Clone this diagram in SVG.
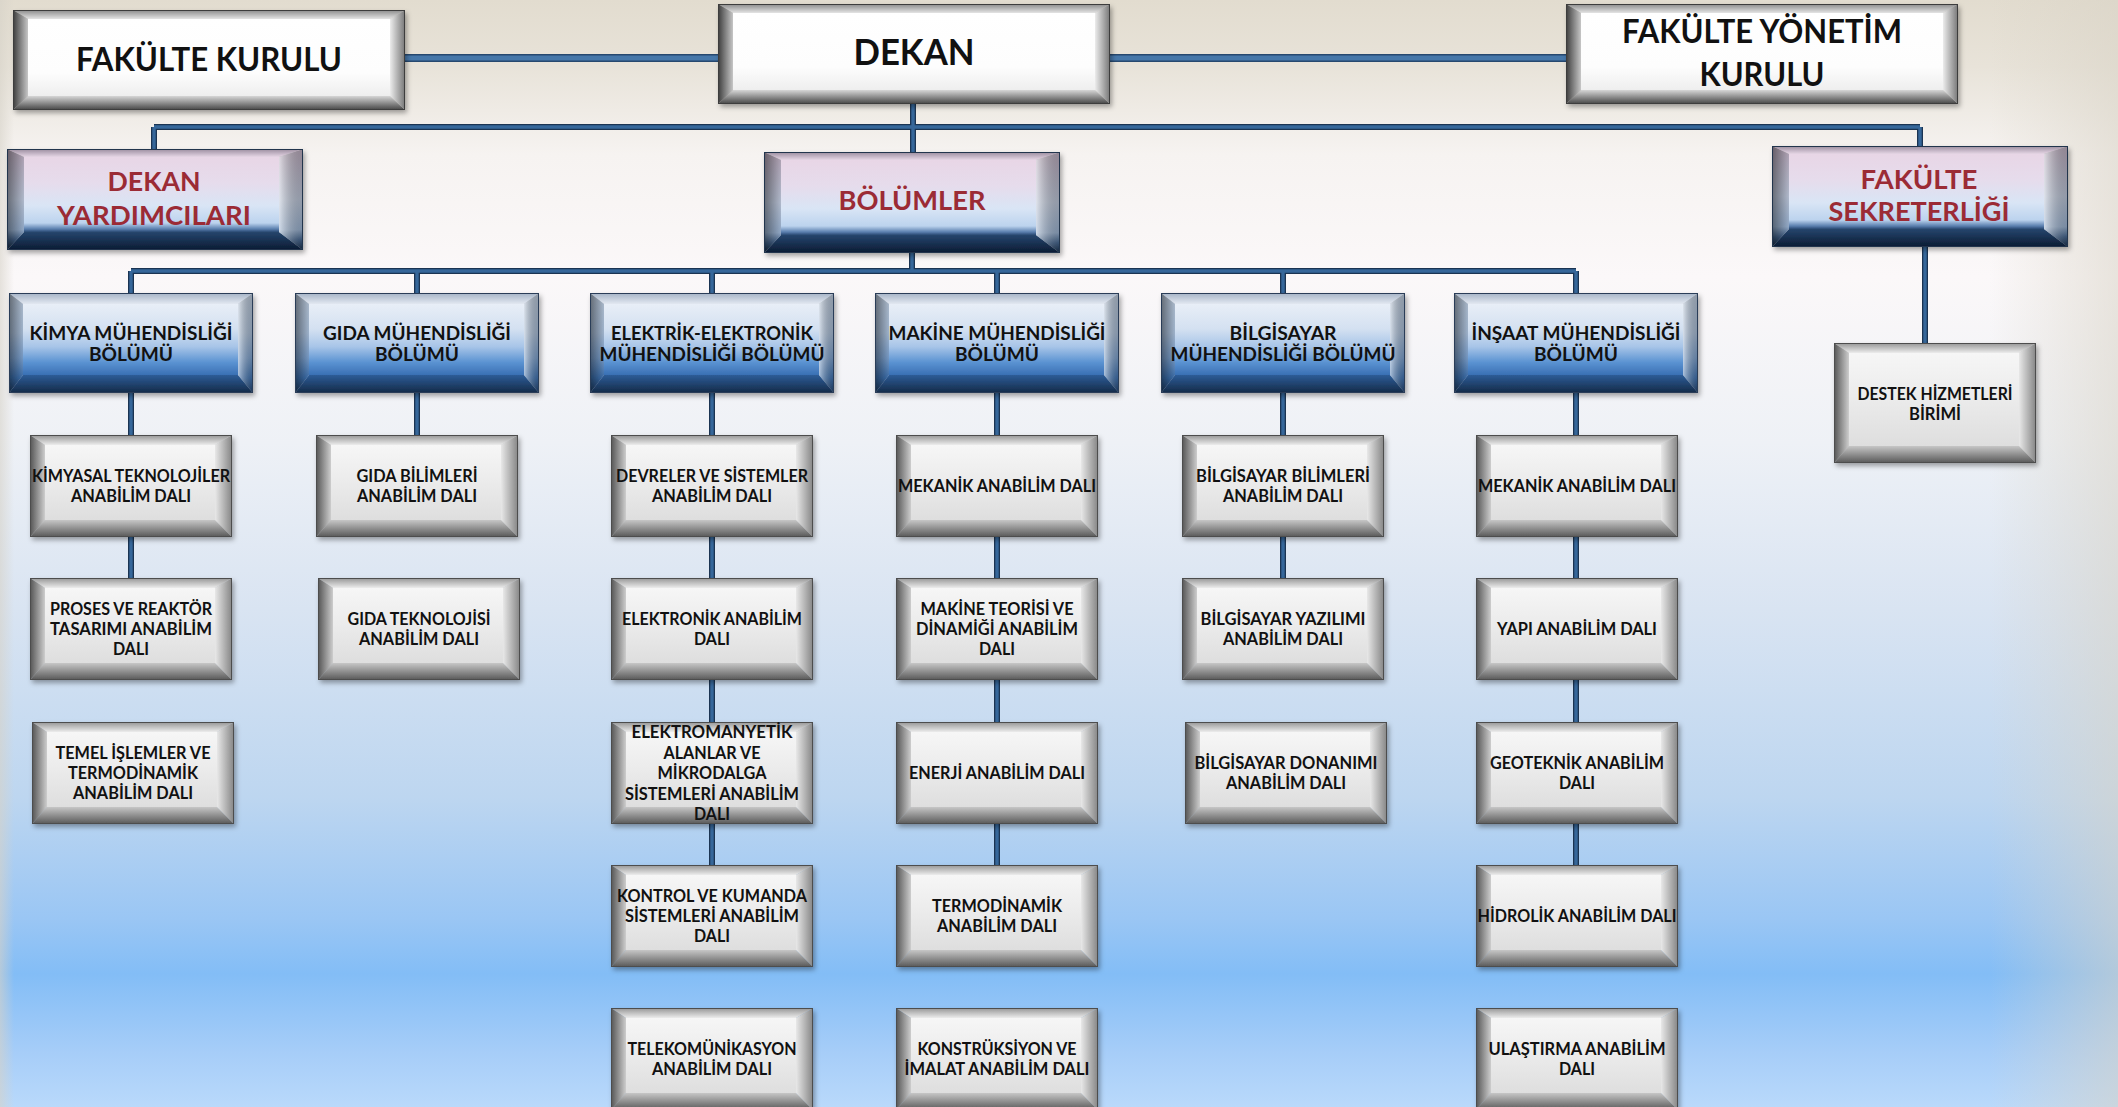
<svg xmlns="http://www.w3.org/2000/svg" xmlns:xlink="http://www.w3.org/1999/xlink" width="2118" height="1107" viewBox="0 0 2118 1107">
<style>
text{font-family:Lato,"Liberation Sans","DejaVu Sans",sans-serif;font-weight:700;text-anchor:middle;fill:#111}
.t-top{font-size:31.5px}
.t-dekan{font-size:36.5px}
.t-red{font-size:27px;fill:#9b2b35}
.t-dept{font-size:19px}
.t-sub{font-size:16.5px}
.ln-o{fill:none;stroke:#1b3452;stroke-width:6}
.ln-i{fill:none;stroke:#36679a;stroke-width:3.4}
.lk-o{fill:none;stroke:#27496f;stroke-width:8}
.lk-i{fill:none;stroke:#4677a9;stroke-width:5}
</style>
<defs>
<linearGradient id="bg" x1="0" y1="0" x2="0" y2="1">
<stop offset="0" stop-color="#e2dccf"/><stop offset="0.06" stop-color="#e8e3d9"/><stop offset="0.14" stop-color="#f6f3f1"/><stop offset="0.25" stop-color="#fbf8f9"/><stop offset="0.4" stop-color="#eef1f6"/><stop offset="0.55" stop-color="#d9e4f2"/><stop offset="0.72" stop-color="#bdd6f0"/><stop offset="0.83" stop-color="#9ac6f4"/><stop offset="0.88" stop-color="#83bdf6"/><stop offset="0.95" stop-color="#a6cdf8"/><stop offset="1" stop-color="#b9d9fb"/>
</linearGradient>
<linearGradient id="bgR" x1="0" y1="0" x2="1" y2="0">
<stop offset="0" stop-color="#d9d3c6" stop-opacity="0"/><stop offset="1" stop-color="#d9d3c6" stop-opacity="0.55"/>
</linearGradient>
<linearGradient id="bgL" x1="0" y1="0" x2="1" y2="0">
<stop offset="0" stop-color="#d6d2c8" stop-opacity="0.6"/><stop offset="1" stop-color="#d6d2c8" stop-opacity="0"/>
</linearGradient>
<filter id="sh" x="-6%" y="-8%" width="115%" height="125%">
<feDropShadow dx="2" dy="3" stdDeviation="2.5" flood-color="#000" flood-opacity="0.35"/>
</filter>
<!-- gray sub boxes -->
<linearGradient id="gsFace" x1="0" y1="0" x2="0" y2="1"><stop offset="0" stop-color="#f6f6f6"/><stop offset="0.5" stop-color="#ebebeb"/><stop offset="1" stop-color="#dedede"/></linearGradient>
<linearGradient id="gsTop" x1="0" y1="0" x2="0" y2="1"><stop offset="0" stop-color="#959595"/><stop offset="1" stop-color="#ececec"/></linearGradient>
<linearGradient id="gsBot" x1="0" y1="0" x2="0" y2="1"><stop offset="0" stop-color="#c6c6c6"/><stop offset="1" stop-color="#585858"/></linearGradient>
<linearGradient id="gsLeft" x1="0" y1="0" x2="1" y2="0"><stop offset="0" stop-color="#545454"/><stop offset="1" stop-color="#cdcdcd"/></linearGradient>
<linearGradient id="gsRight" x1="0" y1="0" x2="1" y2="0"><stop offset="0" stop-color="#e8e8e8"/><stop offset="1" stop-color="#858585"/></linearGradient>
<!-- white top boxes -->
<linearGradient id="gwFace" x1="0" y1="0" x2="0" y2="1"><stop offset="0" stop-color="#ffffff"/><stop offset="0.7" stop-color="#fdfdfd"/><stop offset="1" stop-color="#eeeeee"/></linearGradient>
<linearGradient id="gwTop" x1="0" y1="0" x2="0" y2="1"><stop offset="0" stop-color="#8a8a8a"/><stop offset="1" stop-color="#e4e4e4"/></linearGradient>
<linearGradient id="gwBot" x1="0" y1="0" x2="0" y2="1"><stop offset="0" stop-color="#d6d6d6"/><stop offset="1" stop-color="#444444"/></linearGradient>
<linearGradient id="gwLeft" x1="0" y1="0" x2="1" y2="0"><stop offset="0" stop-color="#3c3c3c"/><stop offset="1" stop-color="#c6c6c6"/></linearGradient>
<linearGradient id="gwRight" x1="0" y1="0" x2="1" y2="0"><stop offset="0" stop-color="#ececec"/><stop offset="1" stop-color="#777777"/></linearGradient>
<!-- blue department boxes -->
<linearGradient id="gbFace" x1="0" y1="0" x2="0" y2="1"><stop offset="0" stop-color="#e8eef7"/><stop offset="0.35" stop-color="#d4e1f1"/><stop offset="0.6" stop-color="#a8c5e8"/><stop offset="0.82" stop-color="#5b93d2"/><stop offset="1" stop-color="#3a70b4"/></linearGradient>
<linearGradient id="gbSide" x1="0" y1="0" x2="0" y2="1"><stop offset="0" stop-color="#b6c4d6"/><stop offset="0.4" stop-color="#a6bbd5"/><stop offset="0.65" stop-color="#7a9fcc"/><stop offset="0.85" stop-color="#3d71b0"/><stop offset="1" stop-color="#1f3f6a"/></linearGradient>
<linearGradient id="gbTop" x1="0" y1="0" x2="0" y2="1"><stop offset="0" stop-color="#a5b3c6"/><stop offset="1" stop-color="#e2e8f1"/></linearGradient>
<linearGradient id="gbBot" x1="0" y1="0" x2="0" y2="1"><stop offset="0" stop-color="#2d5c97"/><stop offset="1" stop-color="#142a47"/></linearGradient>
<!-- red-title boxes -->
<linearGradient id="grFace" x1="0" y1="0" x2="0" y2="1"><stop offset="0" stop-color="#e8d6e6"/><stop offset="0.35" stop-color="#e6dcec"/><stop offset="0.65" stop-color="#d9e5f5"/><stop offset="0.88" stop-color="#bcd3ee"/><stop offset="0.96" stop-color="#5a7fae"/><stop offset="1" stop-color="#2b4a73"/></linearGradient>
<linearGradient id="grSide" x1="0" y1="0" x2="0" y2="1"><stop offset="0" stop-color="#b8a8ba"/><stop offset="0.5" stop-color="#b9c3d6"/><stop offset="0.8" stop-color="#98b0cf"/><stop offset="0.9" stop-color="#45668f"/><stop offset="1" stop-color="#142a48"/></linearGradient>
<linearGradient id="grTop" x1="0" y1="0" x2="0" y2="1"><stop offset="0" stop-color="#9a8c9e"/><stop offset="1" stop-color="#e6d6e5"/></linearGradient>
<linearGradient id="grBot" x1="0" y1="0" x2="0" y2="1"><stop offset="0" stop-color="#26456d"/><stop offset="1" stop-color="#0b1b32"/></linearGradient>
<linearGradient id="shadeL" x1="0" y1="0" x2="1" y2="0"><stop offset="0" stop-color="#000" stop-opacity="0.45"/><stop offset="1" stop-color="#000" stop-opacity="0.05"/></linearGradient>
<linearGradient id="shadeR" x1="0" y1="0" x2="1" y2="0"><stop offset="0" stop-color="#fff" stop-opacity="0.55"/><stop offset="1" stop-color="#000" stop-opacity="0.2"/></linearGradient>

<g id="tplSub">
<polygon points="0,0 202,0 185,10 15,10" fill="url(#gsTop)"/>
<polygon points="0,102 202,102 185,85 15,85" fill="url(#gsBot)"/>
<polygon points="0,0 15,10 15,85 0,102" fill="url(#gsLeft)"/>
<polygon points="202,0 185,10 185,85 202,102" fill="url(#gsRight)"/>
<rect x="15" y="10" width="170" height="75" fill="url(#gsFace)"/>
<rect x="0.5" y="0.5" width="201" height="101" fill="none" stroke="#4d4d4d" stroke-width="1"/>
</g>
<g id="tplSubTall">
<polygon points="0,0 202,0 185,10 15,10" fill="url(#gsTop)"/>
<polygon points="0,120 202,120 185,103 15,103" fill="url(#gsBot)"/>
<polygon points="0,0 15,10 15,103 0,120" fill="url(#gsLeft)"/>
<polygon points="202,0 185,10 185,103 202,120" fill="url(#gsRight)"/>
<rect x="15" y="10" width="170" height="93" fill="url(#gsFace)"/>
<rect x="0.5" y="0.5" width="201" height="119" fill="none" stroke="#4d4d4d" stroke-width="1"/>
</g>
<g id="tplTop">
<polygon points="0,0 392,0 377,9 15,9" fill="url(#gwTop)"/>
<polygon points="0,100 392,100 377,86 15,86" fill="url(#gwBot)"/>
<polygon points="0,0 15,9 15,86 0,100" fill="url(#gwLeft)"/>
<polygon points="392,0 377,9 377,86 392,100" fill="url(#gwRight)"/>
<rect x="15" y="9" width="362" height="77" fill="url(#gwFace)"/>
<rect x="0.5" y="0.5" width="391" height="99" fill="none" stroke="#3d3d3d" stroke-width="1"/>
</g>
<g id="tplDept">
<polygon points="0,0 244,0 229,11 14,11" fill="url(#gbTop)"/>
<polygon points="0,100 244,100 229,82 14,82" fill="url(#gbBot)"/>
<polygon points="0,0 14,11 14,82 0,100" fill="url(#gbSide)"/>
<polygon points="0,0 14,11 14,82 0,100" fill="url(#shadeL)"/>
<polygon points="244,0 229,11 229,82 244,100" fill="url(#gbSide)"/>
<polygon points="244,0 229,11 229,82 244,100" fill="url(#shadeR)"/>
<rect x="14" y="11" width="215" height="71" fill="url(#gbFace)"/>
<rect x="0.5" y="0.5" width="243" height="99" fill="none" stroke="#2a3d58" stroke-width="1"/>
</g>
<g id="tplRed">
<polygon points="0,0 296,0 272,8 17,8" fill="url(#grTop)"/>
<polygon points="0,101 296,101 272,83 17,83" fill="url(#grBot)"/>
<polygon points="0,0 17,8 17,83 0,101" fill="url(#grSide)"/>
<polygon points="0,0 17,8 17,83 0,101" fill="url(#shadeL)"/>
<polygon points="296,0 272,8 272,83 296,101" fill="url(#grSide)"/>
<polygon points="296,0 272,8 272,83 296,101" fill="url(#shadeR)"/>
<rect x="17" y="8" width="255" height="75" fill="url(#grFace)"/>
<rect x="0.5" y="0.5" width="295" height="100" fill="none" stroke="#24344e" stroke-width="1"/>
</g>

<path id="pLinks" d="M405,58 H718 M1110,58 H1566"/>
<path id="pTree" d="M913,104 V152 M154,127 H1920 M154,127 V149 M1920,127 V146 M912,252 V271 M131,271 H1576 M131,271 V293 M417,271 V293 M712,271 V293 M997,271 V293 M1283,271 V293 M1576,271 V293 M1925,247 V343 M131,393 V435 M131,537 V578 M417,393 V435 M712,393 V435 M712,537 V578 M712,680 V722 M712,824 V865 M997,393 V435 M997,537 V578 M997,680 V722 M997,824 V865 M1283,393 V435 M1283,537 V578 M1576,393 V435 M1576,537 V578 M1576,680 V722 M1576,824 V865"/>
</defs>

<rect x="0" y="0" width="2118" height="1107" fill="url(#bg)"/>
<rect x="1990" y="0" width="128" height="1107" fill="url(#bgR)"/>
<rect x="0" y="0" width="14" height="1107" fill="url(#bgL)"/>

<g id="connectors">
<use href="#pLinks" class="lk-o"/>
<use href="#pLinks" class="lk-i"/>
<use href="#pTree" class="ln-o"/>
<use href="#pTree" class="ln-i"/>
</g>

<g id="fakulte-kurulu" transform="translate(13,10)">
<use href="#tplTop" filter="url(#sh)"/>
<text class="t-top" x="196" y="61" textLength="266" lengthAdjust="spacingAndGlyphs">FAKÜLTE KURULU</text>
</g>
<g id="dekan" transform="translate(718,4)">
<use href="#tplTop" filter="url(#sh)"/>
<text class="t-dekan" x="196" y="61" textLength="121" lengthAdjust="spacingAndGlyphs">DEKAN</text>
</g>
<g id="fakulte-yonetim-kurulu" transform="translate(1566,4)">
<use href="#tplTop" filter="url(#sh)"/>
<text class="t-top" x="196" y="39" textLength="280" lengthAdjust="spacingAndGlyphs">FAKÜLTE YÖNETİM</text>
<text class="t-top" x="196" y="82" textLength="125" lengthAdjust="spacingAndGlyphs">KURULU</text>
</g>

<g id="dekan-yardimcilari" transform="translate(7,149)">
<use href="#tplRed" filter="url(#sh)"/>
<text class="t-red" x="147" y="42" textLength="93" lengthAdjust="spacingAndGlyphs">DEKAN</text>
<text class="t-red" x="147" y="76" textLength="194" lengthAdjust="spacingAndGlyphs">YARDIMCILARI</text>
</g>
<g id="bolumler" transform="translate(764,152)">
<use href="#tplRed" filter="url(#sh)"/>
<text class="t-red" x="148" y="58" textLength="147" lengthAdjust="spacingAndGlyphs">BÖLÜMLER</text>
</g>
<g id="fakulte-sekreterligi" transform="translate(1772,146)">
<use href="#tplRed" filter="url(#sh)"/>
<text class="t-red" x="147" y="43" textLength="117" lengthAdjust="spacingAndGlyphs">FAKÜLTE</text>
<text class="t-red" x="147" y="75" textLength="181" lengthAdjust="spacingAndGlyphs">SEKRETERLİĞİ</text>
</g>

<g id="destek-hizmetleri" transform="translate(1834,343)">
<use href="#tplSubTall" filter="url(#sh)"/>
<text class="t-sub" x="101" y="57" textLength="155" lengthAdjust="spacingAndGlyphs">DESTEK HİZMETLERİ</text>
<text class="t-sub" x="101" y="77" textLength="52" lengthAdjust="spacingAndGlyphs">BİRİMİ</text>
</g>

<g id="kimya" transform="translate(9,293)">
<use href="#tplDept" filter="url(#sh)"/>
<text class="t-dept" x="122" y="47" textLength="203" lengthAdjust="spacingAndGlyphs">KİMYA MÜHENDİSLİĞİ</text>
<text class="t-dept" x="122" y="68" textLength="84" lengthAdjust="spacingAndGlyphs">BÖLÜMÜ</text>
</g>
<g id="gida" transform="translate(295,293)">
<use href="#tplDept" filter="url(#sh)"/>
<text class="t-dept" x="122" y="47" textLength="188" lengthAdjust="spacingAndGlyphs">GIDA MÜHENDİSLİĞİ</text>
<text class="t-dept" x="122" y="68" textLength="84" lengthAdjust="spacingAndGlyphs">BÖLÜMÜ</text>
</g>
<g id="elektrik" transform="translate(590,293)">
<use href="#tplDept" filter="url(#sh)"/>
<text class="t-dept" x="122" y="47" textLength="202" lengthAdjust="spacingAndGlyphs">ELEKTRİK-ELEKTRONİK</text>
<text class="t-dept" x="122" y="68" textLength="225" lengthAdjust="spacingAndGlyphs">MÜHENDİSLİĞİ BÖLÜMÜ</text>
</g>
<g id="makine" transform="translate(875,293)">
<use href="#tplDept" filter="url(#sh)"/>
<text class="t-dept" x="122" y="47" textLength="217" lengthAdjust="spacingAndGlyphs">MAKİNE MÜHENDİSLİĞİ</text>
<text class="t-dept" x="122" y="68" textLength="84" lengthAdjust="spacingAndGlyphs">BÖLÜMÜ</text>
</g>
<g id="bilgisayar" transform="translate(1161,293)">
<use href="#tplDept" filter="url(#sh)"/>
<text class="t-dept" x="122" y="47" textLength="107" lengthAdjust="spacingAndGlyphs">BİLGİSAYAR</text>
<text class="t-dept" x="122" y="68" textLength="225" lengthAdjust="spacingAndGlyphs">MÜHENDİSLİĞİ BÖLÜMÜ</text>
</g>
<g id="insaat" transform="translate(1454,293)">
<use href="#tplDept" filter="url(#sh)"/>
<text class="t-dept" x="122" y="47" textLength="209" lengthAdjust="spacingAndGlyphs">İNŞAAT MÜHENDİSLİĞİ</text>
<text class="t-dept" x="122" y="68" textLength="84" lengthAdjust="spacingAndGlyphs">BÖLÜMÜ</text>
</g>

<g id="kimya-1" transform="translate(30,435)">
<use href="#tplSub" filter="url(#sh)"/>
<text class="t-sub" x="101" y="47" textLength="198" lengthAdjust="spacingAndGlyphs">KİMYASAL TEKNOLOJİLER</text>
<text class="t-sub" x="101" y="67" textLength="120" lengthAdjust="spacingAndGlyphs">ANABİLİM DALI</text>
</g>
<g id="kimya-2" transform="translate(30,578)">
<use href="#tplSub" filter="url(#sh)"/>
<text class="t-sub" x="101" y="37" textLength="162" lengthAdjust="spacingAndGlyphs">PROSES VE REAKTÖR</text>
<text class="t-sub" x="101" y="57" textLength="162" lengthAdjust="spacingAndGlyphs">TASARIMI ANABİLİM</text>
<text class="t-sub" x="101" y="77" textLength="36" lengthAdjust="spacingAndGlyphs">DALI</text>
</g>
<g id="kimya-3" transform="translate(32,722)">
<use href="#tplSub" filter="url(#sh)"/>
<text class="t-sub" x="101" y="37" textLength="155" lengthAdjust="spacingAndGlyphs">TEMEL İŞLEMLER VE</text>
<text class="t-sub" x="101" y="57" textLength="130" lengthAdjust="spacingAndGlyphs">TERMODİNAMİK</text>
<text class="t-sub" x="101" y="77" textLength="120" lengthAdjust="spacingAndGlyphs">ANABİLİM DALI</text>
</g>

<g id="gida-1" transform="translate(316,435)">
<use href="#tplSub" filter="url(#sh)"/>
<text class="t-sub" x="101" y="47" textLength="121" lengthAdjust="spacingAndGlyphs">GIDA BİLİMLERİ</text>
<text class="t-sub" x="101" y="67" textLength="120" lengthAdjust="spacingAndGlyphs">ANABİLİM DALI</text>
</g>
<g id="gida-2" transform="translate(318,578)">
<use href="#tplSub" filter="url(#sh)"/>
<text class="t-sub" x="101" y="47" textLength="143" lengthAdjust="spacingAndGlyphs">GIDA TEKNOLOJİSİ</text>
<text class="t-sub" x="101" y="67" textLength="120" lengthAdjust="spacingAndGlyphs">ANABİLİM DALI</text>
</g>

<g id="elektrik-1" transform="translate(611,435)">
<use href="#tplSub" filter="url(#sh)"/>
<text class="t-sub" x="101" y="47" textLength="192" lengthAdjust="spacingAndGlyphs">DEVRELER VE SİSTEMLER</text>
<text class="t-sub" x="101" y="67" textLength="120" lengthAdjust="spacingAndGlyphs">ANABİLİM DALI</text>
</g>
<g id="elektrik-2" transform="translate(611,578)">
<use href="#tplSub" filter="url(#sh)"/>
<text class="t-sub" x="101" y="47" textLength="180" lengthAdjust="spacingAndGlyphs">ELEKTRONİK ANABİLİM</text>
<text class="t-sub" x="101" y="67" textLength="36" lengthAdjust="spacingAndGlyphs">DALI</text>
</g>
<g id="elektrik-3" transform="translate(611,722)">
<use href="#tplSub" filter="url(#sh)"/>
<text class="t-sub" x="101" y="16" textLength="161" lengthAdjust="spacingAndGlyphs">ELEKTROMANYETİK</text>
<text class="t-sub" x="101" y="36.5" textLength="97" lengthAdjust="spacingAndGlyphs">ALANLAR VE</text>
<text class="t-sub" x="101" y="57" textLength="109" lengthAdjust="spacingAndGlyphs">MİKRODALGA</text>
<text class="t-sub" x="101" y="77.5" textLength="174" lengthAdjust="spacingAndGlyphs">SİSTEMLERİ ANABİLİM</text>
<text class="t-sub" x="101" y="98" textLength="36" lengthAdjust="spacingAndGlyphs">DALI</text>
</g>
<g id="elektrik-4" transform="translate(611,865)">
<use href="#tplSub" filter="url(#sh)"/>
<text class="t-sub" x="101" y="37" textLength="190" lengthAdjust="spacingAndGlyphs">KONTROL VE KUMANDA</text>
<text class="t-sub" x="101" y="57" textLength="174" lengthAdjust="spacingAndGlyphs">SİSTEMLERİ ANABİLİM</text>
<text class="t-sub" x="101" y="77" textLength="36" lengthAdjust="spacingAndGlyphs">DALI</text>
</g>
<g id="elektrik-5" transform="translate(611,1008)">
<use href="#tplSub" filter="url(#sh)"/>
<text class="t-sub" x="101" y="47" textLength="169" lengthAdjust="spacingAndGlyphs">TELEKOMÜNİKASYON</text>
<text class="t-sub" x="101" y="67" textLength="120" lengthAdjust="spacingAndGlyphs">ANABİLİM DALI</text>
</g>

<g id="makine-1" transform="translate(896,435)">
<use href="#tplSub" filter="url(#sh)"/>
<text class="t-sub" x="101" y="57" textLength="198" lengthAdjust="spacingAndGlyphs">MEKANİK ANABİLİM DALI</text>
</g>
<g id="makine-2" transform="translate(896,578)">
<use href="#tplSub" filter="url(#sh)"/>
<text class="t-sub" x="101" y="37" textLength="153" lengthAdjust="spacingAndGlyphs">MAKİNE TEORİSİ VE</text>
<text class="t-sub" x="101" y="57" textLength="162" lengthAdjust="spacingAndGlyphs">DİNAMİĞİ ANABİLİM</text>
<text class="t-sub" x="101" y="77" textLength="36" lengthAdjust="spacingAndGlyphs">DALI</text>
</g>
<g id="makine-3" transform="translate(896,722)">
<use href="#tplSub" filter="url(#sh)"/>
<text class="t-sub" x="101" y="57" textLength="176" lengthAdjust="spacingAndGlyphs">ENERJİ ANABİLİM DALI</text>
</g>
<g id="makine-4" transform="translate(896,865)">
<use href="#tplSub" filter="url(#sh)"/>
<text class="t-sub" x="101" y="47" textLength="130" lengthAdjust="spacingAndGlyphs">TERMODİNAMİK</text>
<text class="t-sub" x="101" y="67" textLength="120" lengthAdjust="spacingAndGlyphs">ANABİLİM DALI</text>
</g>
<g id="makine-5" transform="translate(896,1008)">
<use href="#tplSub" filter="url(#sh)"/>
<text class="t-sub" x="101" y="47" textLength="159" lengthAdjust="spacingAndGlyphs">KONSTRÜKSİYON VE</text>
<text class="t-sub" x="101" y="67" textLength="185" lengthAdjust="spacingAndGlyphs">İMALAT ANABİLİM DALI</text>
</g>

<g id="bilgisayar-1" transform="translate(1182,435)">
<use href="#tplSub" filter="url(#sh)"/>
<text class="t-sub" x="101" y="47" textLength="174" lengthAdjust="spacingAndGlyphs">BİLGİSAYAR BİLİMLERİ</text>
<text class="t-sub" x="101" y="67" textLength="120" lengthAdjust="spacingAndGlyphs">ANABİLİM DALI</text>
</g>
<g id="bilgisayar-2" transform="translate(1182,578)">
<use href="#tplSub" filter="url(#sh)"/>
<text class="t-sub" x="101" y="47" textLength="165" lengthAdjust="spacingAndGlyphs">BİLGİSAYAR YAZILIMI</text>
<text class="t-sub" x="101" y="67" textLength="120" lengthAdjust="spacingAndGlyphs">ANABİLİM DALI</text>
</g>
<g id="bilgisayar-3" transform="translate(1185,722)">
<use href="#tplSub" filter="url(#sh)"/>
<text class="t-sub" x="101" y="47" textLength="183" lengthAdjust="spacingAndGlyphs">BİLGİSAYAR DONANIMI</text>
<text class="t-sub" x="101" y="67" textLength="120" lengthAdjust="spacingAndGlyphs">ANABİLİM DALI</text>
</g>

<g id="insaat-1" transform="translate(1476,435)">
<use href="#tplSub" filter="url(#sh)"/>
<text class="t-sub" x="101" y="57" textLength="198" lengthAdjust="spacingAndGlyphs">MEKANİK ANABİLİM DALI</text>
</g>
<g id="insaat-2" transform="translate(1476,578)">
<use href="#tplSub" filter="url(#sh)"/>
<text class="t-sub" x="101" y="57" textLength="160" lengthAdjust="spacingAndGlyphs">YAPI ANABİLİM DALI</text>
</g>
<g id="insaat-3" transform="translate(1476,722)">
<use href="#tplSub" filter="url(#sh)"/>
<text class="t-sub" x="101" y="47" textLength="174" lengthAdjust="spacingAndGlyphs">GEOTEKNİK ANABİLİM</text>
<text class="t-sub" x="101" y="67" textLength="36" lengthAdjust="spacingAndGlyphs">DALI</text>
</g>
<g id="insaat-4" transform="translate(1476,865)">
<use href="#tplSub" filter="url(#sh)"/>
<text class="t-sub" x="101" y="57" textLength="199" lengthAdjust="spacingAndGlyphs">HİDROLİK ANABİLİM DALI</text>
</g>
<g id="insaat-5" transform="translate(1476,1008)">
<use href="#tplSub" filter="url(#sh)"/>
<text class="t-sub" x="101" y="47" textLength="177" lengthAdjust="spacingAndGlyphs">ULAŞTIRMA ANABİLİM</text>
<text class="t-sub" x="101" y="67" textLength="36" lengthAdjust="spacingAndGlyphs">DALI</text>
</g>
</svg>
